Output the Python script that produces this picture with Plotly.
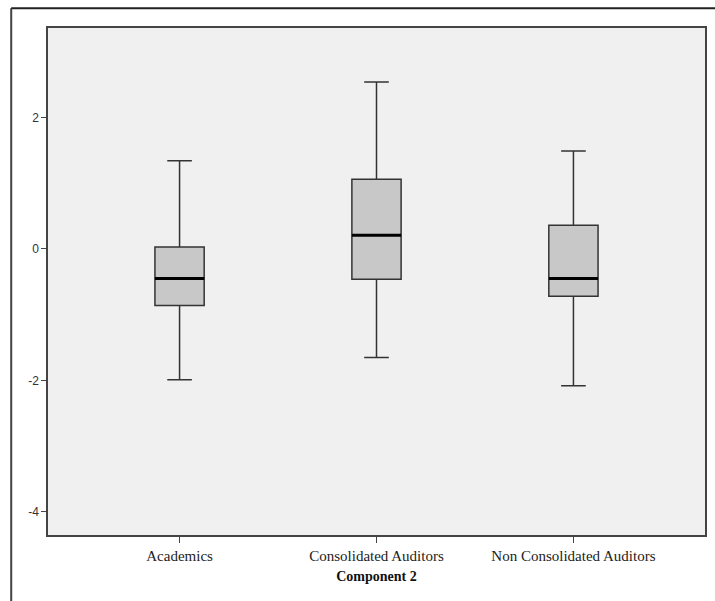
import plotly.graph_objects as go

categories = ["Academics", "Consolidated Auditors", "Non Consolidated Auditors"]
lower_whisker = [-1.99, -1.65, -2.08]
q1 = [-0.86, -0.46, -0.72]
median = [-0.45, 0.21, -0.45]
q3 = [0.03, 1.06, 0.36]
upper_whisker = [1.34, 2.54, 1.49]
y_ticks = [-4, -2, 0, 2]
y_tick_labels = ["-4", "-2", "0", "2"]
x_title = "Component 2"

box_w = 0.25
fig = go.Figure()
for i, c in enumerate(categories):
    fig.add_trace(go.Box(
        x=[i], q1=[q1[i]], median=[median[i]], q3=[q3[i]],
        lowerfence=[lower_whisker[i]], upperfence=[upper_whisker[i]],
        width=box_w, whiskerwidth=0.5,
        fillcolor="#C8C8C8", line=dict(color="#333333", width=1.5),
        boxpoints=False, showlegend=False, hoverinfo="skip",
    ))
    fig.add_shape(type="line", xref="x", yref="y",
                  x0=i - box_w / 2, x1=i + box_w / 2, y0=median[i], y1=median[i],
                  line=dict(color="black", width=3), layer="above")

# outer frame (only left and top edges visible)
fig.add_shape(type="line", xref="paper", yref="paper",
              x0=-0.056, x1=-0.056, y0=-0.3, y1=1.039,
              line=dict(color="#444444", width=2), layer="above")
fig.add_shape(type="line", xref="paper", yref="paper",
              x0=-0.056, x1=1.2, y0=1.039, y1=1.039,
              line=dict(color="#222222", width=2), layer="above")

fig.update_layout(
    width=715, height=601,
    margin=dict(l=48, r=8, t=28, b=66),
    paper_bgcolor="white", plot_bgcolor="#F0F0F0",
    xaxis=dict(
        tickmode="array", tickvals=list(range(len(categories))), ticktext=categories,
        range=[-0.668, 2.668], showgrid=False, zeroline=False,
        showline=True, linecolor="#444444", linewidth=1.5, mirror=True,
        ticks="outside", ticklen=6, tickcolor="#444444",
        tickfont=dict(family="Liberation Serif", size=15, color="#222222"),
        title=dict(text="<b>" + x_title + "</b>", standoff=8,
                   font=dict(family="Liberation Serif", size=14, color="#111111")),
    ),
    yaxis=dict(
        tickmode="array", tickvals=y_ticks, ticktext=y_tick_labels,
        range=[-4.35, 3.36],
        showgrid=False, zeroline=False,
        showline=True, linecolor="#444444", linewidth=1.5, mirror=True,
        ticks="outside", ticklen=5, tickcolor="#444444",
        tickfont=dict(family="Liberation Sans", size=12, color="#333333"),
    ),
)
fig.write_html(
    "out.html",
    config={"displayModeBar": False},
    post_script="document.documentElement.style.overflow='hidden';"
                "document.body.style.overflow='hidden';document.body.style.margin='0';",
)
